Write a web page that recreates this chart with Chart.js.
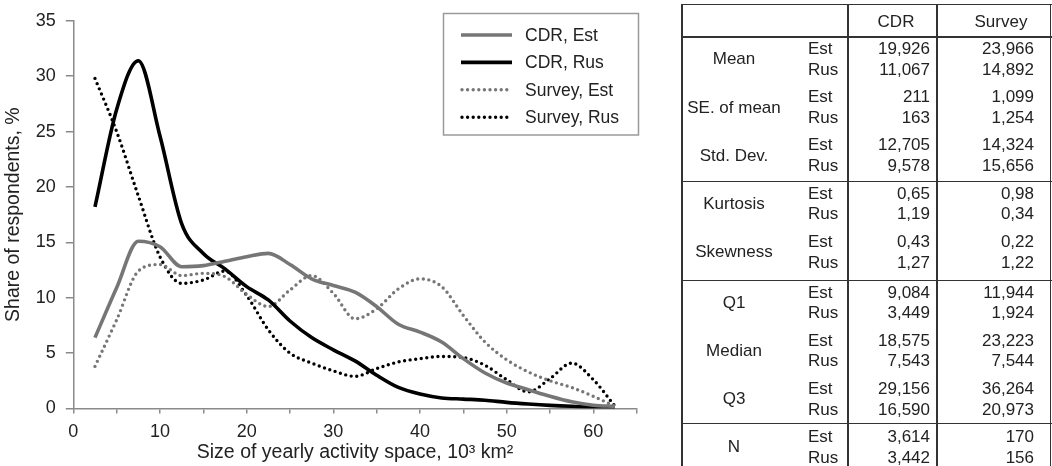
<!DOCTYPE html>
<html>
<head>
<meta charset="utf-8">
<script src="https://cdn.jsdelivr.net/npm/chart.js@4/dist/chart.umd.min.js"></script>
<style>
  html, body { margin: 0; padding: 0; background: #fff; }
  body { width: 1052px; height: 466px; position: relative; overflow: hidden;
         font-family: "Liberation Sans", Arial, sans-serif; color: #222; }
  #chart-wrap { position: absolute; left: 0; top: 0; width: 670px; height: 466px; }
  #stats { position: absolute; left: 0; top: 0; width: 1052px; height: 466px; }
  .t { position: absolute; font-size: 17px; line-height: 20px; white-space: nowrap; }
  .ln { position: absolute; background: #333; }
</style>
</head>
<body>
<div id="chart-wrap"><canvas id="chart-size" width="670" height="466"></canvas></div>
<div id="stats"></div>
<script>
// ==================== DATA ====================
const sizes = [2.5, 5, 7.5, 10, 12.5, 15, 17.5, 20, 22.5, 25, 27.5, 30, 32.5,
  35, 37.5, 40, 42.5, 45, 47.5, 50, 52.5, 55, 57.5, 60, 62.5];
const cdrEstShare = [6.4, 10.9, 15.1, 14.6, 12.8, 12.9, 13.3, 13.7, 14.0, 13.0, 11.7, 11.1, 10.5,
  9.2, 7.6, 6.9, 6.0, 4.5, 3.2, 2.3, 1.7, 1.1, 0.6, 0.3, 0.2];
const cdrRusShare = [18.2, 27.0, 31.4, 24.6, 16.7, 14.0, 12.6, 11.0, 9.8, 7.9, 6.4, 5.3, 4.3,
  3.0, 1.9, 1.3, 0.95, 0.85, 0.75, 0.55, 0.4, 0.28, 0.2, 0.15, 0.15];
const surveyEstShare = [3.8, 8.0, 12.4, 13.0, 12.0, 12.2, 11.9, 10.3, 9.2, 10.7, 12.0, 10.4, 8.1,
  9.0, 10.8, 11.7, 11.0, 8.4, 6.0, 4.4, 3.3, 2.5, 1.9, 1.1, 0.2];
const surveyRusShare = [29.8, 25.0, 19.2, 13.7, 11.3, 11.6, 12.4, 10.2, 7.1, 5.0, 4.1, 3.4, 2.9,
  3.6, 4.2, 4.5, 4.7, 4.6, 3.9, 2.6, 1.5, 2.7, 4.1, 2.6, 0.2];
const seriesLabels = ['CDR, Est', 'CDR, Rus', 'Survey, Est', 'Survey, Rus'];

// stats table
const statHeaders = ['CDR', 'Survey'];
const statNames = ['Mean', 'SE. of mean', 'Std. Dev.', 'Kurtosis', 'Skewness', 'Q1', 'Median', 'Q3', 'N'];
const cdrEst = ['19,926', '211', '12,705', '0,65', '0,43', '9,084', '18,575', '29,156', '3,614'];
const cdrRus = ['11,067', '163', '9,578', '1,19', '1,27', '3,449', '7,543', '16,590', '3,442'];
const surveyEst = ['23,966', '1,099', '14,324', '0,98', '0,22', '11,944', '23,223', '36,264', '170'];
const surveyRus = ['14,892', '1,254', '15,656', '0,34', '1,22', '1,924', '7,544', '20,973', '156'];

const FONT = '"Liberation Sans", Arial, sans-serif';
const GREY = '#767676';
const pts = (vals) => sizes.map((x, i) => ({ x, y: vals[i] }));

// ==================== CHART ====================
const boxLegend = {
  id: 'boxLegend',
  afterDraw(chart) {
    const ctx = chart.ctx;
    ctx.save();
    ctx.strokeStyle = '#9a9a9a';
    ctx.lineWidth = 1.5;
    ctx.strokeRect(443.5, 13.5, 195, 121.5);
    chart.data.datasets.forEach((ds, i) => {
      const y = 35 + 27.4 * i;
      ctx.beginPath();
      ctx.strokeStyle = ds.borderColor;
      ctx.lineWidth = ds.borderWidth;
      ctx.lineCap = ds.borderCapStyle || 'butt';
      ctx.setLineDash(ds.borderDash || []);
      ctx.moveTo(ds.borderDash ? 462 : 461, y);
      ctx.lineTo(512, y);
      ctx.stroke();
      ctx.setLineDash([]);
      ctx.fillStyle = '#222';
      ctx.font = '17.5px ' + FONT;
      ctx.textBaseline = 'middle';
      ctx.fillText(ds.label, 525, y + 1);
    });
    ctx.restore();
  },
};

new Chart(document.getElementById('chart-size').getContext('2d'), {
  type: 'line',
  data: {
    datasets: [
      { label: seriesLabels[0], data: pts(cdrEstShare), borderColor: GREY, borderWidth: 3.6 },
      { label: seriesLabels[1], data: pts(cdrRusShare), borderColor: '#000', borderWidth: 3.6 },
      { label: seriesLabels[2], data: pts(surveyEstShare), borderColor: GREY, borderWidth: 3.4,
        borderDash: [0, 5.6], borderCapStyle: 'round' },
      { label: seriesLabels[3], data: pts(surveyRusShare), borderColor: '#000', borderWidth: 3.4,
        borderDash: [0, 5.6], borderCapStyle: 'round' },
    ],
  },
  options: {
    responsive: false,
    animation: false,
    layout: { padding: { top: 20, right: 33.3, left: 0, bottom: 0 } },
    elements: { point: { radius: 0 }, line: { cubicInterpolationMode: 'monotone' } },
    plugins: { legend: { display: false }, tooltip: { enabled: false } },
    scales: {
      x: {
        type: 'linear',
        min: 0,
        max: 65,
        afterFit: (s) => { s.height = 57.5; },
        border: { color: '#8a8a8a', width: 1.5 },
        grid: { drawOnChartArea: false, tickLength: 5, color: '#8a8a8a', lineWidth: 1.5 },
        ticks: {
          stepSize: 5,
          padding: 8,
          color: '#222',
          font: { family: FONT, size: 18 },
          maxRotation: 0,
          autoSkip: false,
          callback: (v) => (v % 10 === 0 ? v : ''),
        },
        title: {
          display: true,
          text: 'Size of yearly activity space, 10³ km²',
          color: '#222',
          font: { family: FONT, size: 19.5 },
          padding: { top: 0, bottom: 2 },
        },
      },
      y: {
        min: 0,
        max: 35,
        afterFit: (s) => { s.width = 73.3; },
        border: { color: '#8a8a8a', width: 1.5 },
        grid: { drawOnChartArea: false, tickLength: 7.5, color: '#8a8a8a', lineWidth: 1.5 },
        ticks: { stepSize: 5, padding: 10, color: '#222', font: { family: FONT, size: 18 } },
        title: {
          display: true,
          text: 'Share of respondents, %',
          color: '#222',
          font: { family: FONT, size: 19.5 },
          padding: { top: 2, bottom: 0 },
        },
      },
    },
  },
  plugins: [boxLegend],
});

// ==================== STATS TABLE ====================
const stats = document.getElementById('stats');
const put = (txt, x, y, align) => {
  const d = document.createElement('div');
  d.className = 't';
  d.textContent = txt;
  d.style.top = (y - 10) + 'px';
  if (align === 'right') d.style.right = (1052 - x) + 'px';
  else if (align === 'center') { d.style.left = (x - 100) + 'px'; d.style.width = '200px'; d.style.textAlign = 'center'; }
  else d.style.left = x + 'px';
  stats.appendChild(d);
};
const line = (x, y, w, h) => {
  const d = document.createElement('div');
  d.className = 'ln';
  Object.assign(d.style, { left: x + 'px', top: y + 'px', width: w + 'px', height: h + 'px' });
  stats.appendChild(d);
};

put(statHeaders[0], 896, 21.5, 'center');
put(statHeaders[1], 1001, 21.5, 'center');
statNames.forEach((name, i) => {
  const yEst = 49 + 48.2 * i + (i >= 5 ? 2.5 : 0);
  const yRus = yEst + 20.7;
  put(name, 734, (yEst + yRus) / 2, 'center');
  put('Est', 808, yEst, 'left');
  put('Rus', 808, yRus, 'left');
  put(cdrEst[i], 930, yEst, 'right');
  put(cdrRus[i], 930, yRus, 'right');
  put(surveyEst[i], 1034, yEst, 'right');
  put(surveyRus[i], 1034, yRus, 'right');
});

// borders
[3.5, 36, 180.5, 279.5, 422.5].forEach((y) => line(681, y, 370.5, 1.6));
[681, 847, 936, 1049.5].forEach((x) => line(x, 3.5, 1.6, 470));
</script>
</body>
</html>
